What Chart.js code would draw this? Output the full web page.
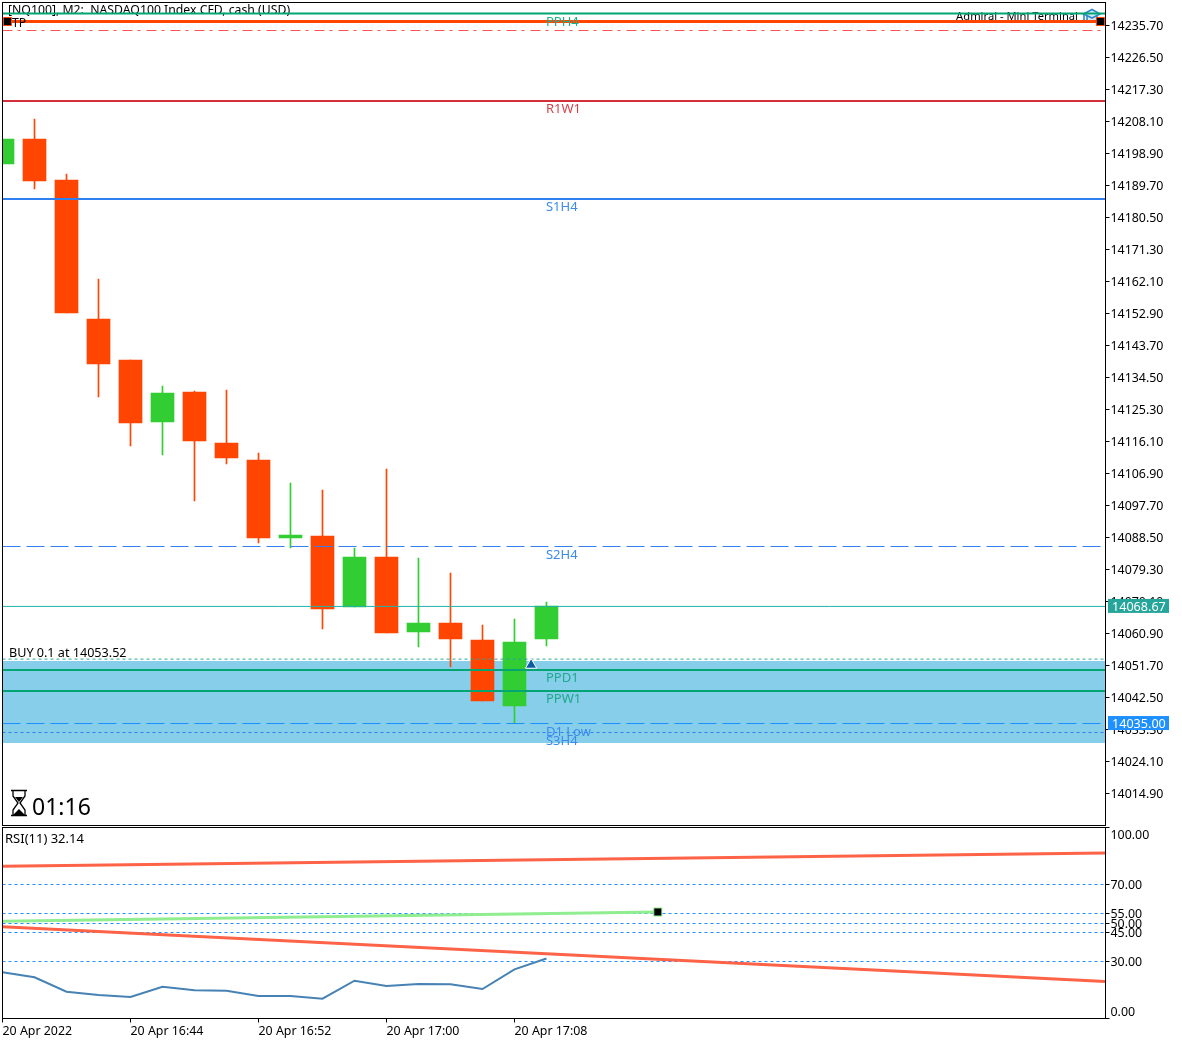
<!DOCTYPE html>
<html>
<head>
<meta charset="utf-8">
<title>NQ100 M2</title>
<script src="https://cdn.jsdelivr.net/npm/chart.js@4"></script>
<style>
    html, body { margin: 0; padding: 0; background: #fff; }
    canvas { position: absolute; left: 0; }
    #priceChart { top: 0; }
    #rsiChart { top: 826px; }
</style>
</head>
<body>
<canvas id="priceChart" width="1182" height="826"></canvas>
<canvas id="rsiChart" width="1182" height="217"></canvas>
<script>
// candles, one per 2 minutes, index 0 is 16:36
const candleIndex = [0, 1, 2, 3, 4, 5, 6, 7, 8, 9, 10, 11, 12, 13, 14, 15, 16, 17];
const opens  = [14195.88, 14203.07, 14191.28, 14151.31, 14139.52, 14121.70, 14130.32, 14115.66, 14110.77, 14088.35, 14088.92, 14068.51, 14082.88, 14061.32, 14063.91, 14059.02, 14040.04, 14059.31];
const highs  = [14203.07, 14208.82, 14193.00, 14162.81, 14139.52, 14132.05, 14130.61, 14130.90, 14112.78, 14104.16, 14102.15, 14085.47, 14108.18, 14082.59, 14078.28, 14063.33, 14065.06, 14069.94];
const lows   = [14195.88, 14188.69, 14153.04, 14128.89, 14114.80, 14112.21, 14098.98, 14109.62, 14086.91, 14085.47, 14062.18, 14068.51, 14061.03, 14057.01, 14051.26, 14041.48, 14035.15, 14057.29];
const closes = [14203.07, 14190.99, 14153.04, 14138.37, 14121.41, 14130.04, 14116.23, 14111.35, 14088.35, 14089.21, 14067.93, 14082.88, 14061.03, 14063.91, 14059.31, 14041.48, 14058.44, 14068.79];

// price levels
const levelNames  = ['PPH4', 'R1W1', 'S1H4', 'S2H4', 'PPD1', 'PPW1', 'D1 Low', 'S3H4'];
const levelPrices = [14239.15, 14214.00, 14185.80, 14085.90, 14050.40, 14044.35, 14035.00, 14032.42];
const takeProfit = 14236.85;
const tpDashed = 14234.26;
const lastPrice = 14068.67;
const buyPrice = 14053.52;
const zoneTop = 14052.98;
const zoneBottom = 14029.40;

const priceTicks = [14235.70, 14226.50, 14217.30, 14208.10, 14198.90, 14189.70, 14180.50, 14171.30, 14162.10, 14152.90, 14143.70, 14134.50, 14125.30, 14116.10, 14106.90, 14097.70, 14088.50, 14079.30, 14070.10, 14060.90, 14051.70, 14042.50, 14033.30, 14024.10, 14014.90];
const timeTicks = [0, 4, 8, 12, 16];
const timeLabels = ['20 Apr 2022', '20 Apr 16:44', '20 Apr 16:52', '20 Apr 17:00', '20 Apr 17:08'];

// rsi pane
const rsiValues = [24.19, 21.57, 14.03, 12.31, 11.26, 16.65, 14.77, 14.56, 11.78, 11.78, 10.37, 19.79, 17.02, 18.06, 17.91, 15.45, 25.76, 31.40];
const rsiTicks = [0, 30, 45, 50, 55, 70, 100];
const rsiUpperTrend = [79.69, 86.65];
const rsiLowerTrend = [48.06, 19.37];
const rsiGreenTrend = [50.90, 55.76];
const rsiGreenEnd = 20.48;

// both panes run past the last candle up to here
const xEnd = 34.47;

const FONT = '"Noto Sans", sans-serif';
const RED = '#FF4500';
const GREEN = '#32CD32';
const LEVEL_GREEN = '#00A572';
const DODGER = '#1E90FF';
const BLUE = '#2F80F0';

Chart.defaults.font.family = FONT;
Chart.defaults.font.size = 12.4;
Chart.defaults.color = '#000';

// horizontal level line as a two point line dataset
function levelLine(price, color, width, dash, order) {
    return {
        type: 'line',
        data: [{x: 0, y: price}, {x: xEnd, y: price}],
        borderColor: color,
        borderWidth: width,
        borderDash: dash || [],
        pointRadius: 0,
        order: order || 1
    };
}

function text(ctx, str, x, y, color, font, align) {
    ctx.save();
    ctx.fillStyle = color;
    ctx.font = font || '12.25px ' + FONT;
    ctx.textAlign = align || 'left';
    ctx.textBaseline = 'middle';
    ctx.fillText(str, x, y);
    ctx.restore();
}

function paneBorder(chart) {
    const ctx = chart.ctx, a = chart.chartArea;
    ctx.save();
    ctx.strokeStyle = '#000';
    ctx.lineWidth = 1;
    ctx.strokeRect(a.left, a.top, a.right - a.left, a.bottom - a.top);
    ctx.restore();
}

// tag on the axis with the current price
function priceTag(chart, price, color) {
    const ctx = chart.ctx, y = chart.scales.y.getPixelForValue(price);
    ctx.save();
    ctx.fillStyle = color;
    ctx.fillRect(1108, y - 7.5, 61, 14);
    ctx.restore();
    text(ctx, price.toFixed(2), 1112, y + 0.5, '#fff', '12.6px ' + FONT);
}

function drawHourglass(ctx) {
    ctx.save();
    ctx.strokeStyle = '#000';
    ctx.lineWidth = 1.3;
    ctx.beginPath();
    ctx.moveTo(11, 790.5); ctx.lineTo(27, 790.5);
    ctx.moveTo(11, 815.5); ctx.lineTo(27, 815.5);
    ctx.moveTo(13, 791); ctx.lineTo(13, 796); ctx.lineTo(18, 803); ctx.lineTo(13, 810); ctx.lineTo(13, 815);
    ctx.moveTo(25, 791); ctx.lineTo(25, 796); ctx.lineTo(20, 803); ctx.lineTo(25, 810); ctx.lineTo(25, 815);
    ctx.stroke();
    ctx.fillStyle = '#000';
    ctx.beginPath();
    ctx.moveTo(15, 797); ctx.lineTo(23, 797); ctx.lineTo(19, 802); ctx.closePath();
    ctx.moveTo(13, 815); ctx.lineTo(19, 809); ctx.lineTo(25, 815); ctx.closePath();
    ctx.fill();
    ctx.restore();
}

function drawCap(ctx) {
    ctx.save();
    ctx.strokeStyle = '#2F86C8';
    ctx.fillStyle = '#D6EAF6';
    ctx.lineWidth = 1.6;
    ctx.beginPath();
    ctx.moveTo(1087, 16); ctx.lineTo(1087, 22); ctx.lineTo(1097, 22); ctx.lineTo(1097, 16);
    ctx.fill();
    ctx.stroke();
    ctx.beginPath();
    ctx.moveTo(1083.5, 14); ctx.lineTo(1092, 9.5); ctx.lineTo(1100, 14); ctx.lineTo(1092, 18); ctx.closePath();
    ctx.fill();
    ctx.stroke();
    ctx.beginPath();
    ctx.moveTo(1084, 14); ctx.lineTo(1084, 23);
    ctx.stroke();
    ctx.restore();
}

// the axis asks for room to hang its end labels, the panes here fill the canvas
function noScalePadding(scale) {
    scale.paddingTop = 0;
    scale.paddingBottom = 0;
    scale.paddingLeft = 0;
    scale.paddingRight = 0;
}

const priceDecor = {
    id: 'priceDecor',
    beforeDatasetsDraw(chart) {
        const ctx = chart.ctx;
        text(ctx, '[NQ100], M2:  NASDAQ100 Index CFD, cash (USD)', 8, 11, '#000');
        text(ctx, 'Admiral - Mini Terminal', 1078, 17, '#000', '11.2px ' + FONT, 'right');
        drawCap(ctx);
    },
    afterDatasetsDraw(chart) {
        const ctx = chart.ctx, sx = chart.scales.x, sy = chart.scales.y;
        const colors = {PPH4: '#1FAE8A', R1W1: '#D8434A', S1H4: '#3B8BEB', S2H4: '#3B8BEB', PPD1: '#1FA889', PPW1: '#1FA889', 'D1 Low': '#3B8BEB', S3H4: '#3B8BEB'};
        levelNames.forEach(function(name, i) {
            const y = sy.getPixelForValue(levelPrices[i]) + 8.5;
            text(ctx, name, sx.getPixelForValue(17) - 0.5, y, colors[name], '13px ' + FONT);
        });
        text(ctx, 'TP', 12, 23.5, '#000');
        text(ctx, 'BUY 0.1 at ' + buyPrice.toFixed(2), 9, 653, '#000', '12.6px ' + FONT);
        drawHourglass(ctx);
        text(ctx, '01:16', 32, 808, '#000', '23px ' + FONT);
        paneBorder(chart);
    },
    afterDraw(chart) {
        priceTag(chart, lastPrice, '#26A69A');
        priceTag(chart, levelPrices[6], DODGER);
    }
};

const rsiDecor = {
    id: 'rsiDecor',
    afterDatasetsDraw(chart) {
        text(chart.ctx, 'RSI(11) 32.14', 5, 13, '#000', '13px ' + FONT);
        paneBorder(chart);
    }
};

// wicks and bodies are two overlapping floating bar datasets
const candleColors = candleIndex.map(function(i) { return closes[i] >= opens[i] ? GREEN : RED; });

new Chart(document.getElementById('priceChart').getContext('2d'), {
    type: 'bar',
    data: {
        datasets: [
            // blue zone, filled between two lines
            {type: 'line', data: [{x: 0, y: zoneTop}, {x: xEnd, y: zoneTop}], borderWidth: 0, pointRadius: 0, backgroundColor: '#87CEEB', fill: '+1', order: 9},
            {type: 'line', data: [{x: 0, y: zoneBottom}, {x: xEnd, y: zoneBottom}], borderWidth: 0, pointRadius: 0, order: 9},
            {
                data: candleIndex.map(function(i) { return {x: i, y: [lows[i], highs[i]]}; }),
                backgroundColor: candleColors,
                barThickness: 1,
                grouped: false,
                order: 4
            },
            {
                data: candleIndex.map(function(i) { return {x: i, y: [opens[i], closes[i]]}; }),
                backgroundColor: candleColors,
                barThickness: 23,
                grouped: false,
                order: 3
            },
            levelLine(levelPrices[0], LEVEL_GREEN, 2),
            levelLine(takeProfit, RED, 3),
            levelLine(tpDashed, '#FF5252', 1, [10, 5, 3, 6]),
            levelLine(levelPrices[1], '#D32F3A', 2),
            levelLine(levelPrices[2], BLUE, 2),
            levelLine(levelPrices[3], BLUE, 1, [18, 6]),
            levelLine(lastPrice, '#20B2AA', 1),
            levelLine(buyPrice, '#26A69A', 1, [3, 3]),
            levelLine(levelPrices[4], LEVEL_GREEN, 2),
            levelLine(levelPrices[5], LEVEL_GREEN, 2),
            levelLine(levelPrices[6], DODGER, 1, [18, 6]),
            levelLine(levelPrices[7], BLUE, 1, [3, 3]),
            // the drag handles on the tp line
            {
                type: 'scatter',
                data: [{x: 0.156, y: takeProfit}, {x: 34.31, y: takeProfit}],
                pointStyle: 'rect',
                pointRadius: 5.7,
                backgroundColor: '#000',
                borderColor: RED,
                borderWidth: 1,
                order: 0
            },
            // buy arrow
            {
                type: 'scatter',
                data: [{x: 16.52, y: 14051.83}],
                pointStyle: 'triangle',
                pointRadius: 6.5,
                backgroundColor: '#0A5CA8',
                borderColor: '#fff',
                borderWidth: 1,
                order: 0
            }
        ]
    },
    options: {
        responsive: false,
        animation: false,
        devicePixelRatio: 1,
        layout: {autoPadding: false, padding: {left: 2.5, top: 2.5, right: 0, bottom: 0.5}},
        plugins: {legend: {display: false}, tooltip: {enabled: false}},
        scales: {
            x: {type: 'linear', min: 0, max: xEnd, offset: false, display: false},
            y: {
                position: 'right',
                min: 14005.68,
                max: 14242.31,
                afterFit: function(scale) { scale.width = 76.5; noScalePadding(scale); },
                afterBuildTicks: function(scale) { scale.ticks = priceTicks.map(function(v) { return {value: v}; }); },
                grid: {drawOnChartArea: false, tickLength: 4, tickColor: '#000'},
                border: {display: false},
                ticks: {
                    autoSkip: false,
                    padding: 1,
                    labelOffset: 1,
                    callback: function(v) { return v.toFixed(2); }
                }
            }
        }
    },
    plugins: [priceDecor]
});

new Chart(document.getElementById('rsiChart').getContext('2d'), {
    type: 'line',
    data: {
        datasets: [
            {data: candleIndex.map(function(i) { return {x: i, y: rsiValues[i]}; }), borderColor: '#4682B4', borderWidth: 2, pointRadius: 0},
            {data: [{x: 0, y: rsiUpperTrend[0]}, {x: xEnd, y: rsiUpperTrend[1]}], borderColor: '#FF6347', borderWidth: 3, pointRadius: 0},
            {data: [{x: 0, y: rsiLowerTrend[0]}, {x: xEnd, y: rsiLowerTrend[1]}], borderColor: '#FF6347', borderWidth: 3, pointRadius: 0},
            {
                data: [{x: 0, y: rsiGreenTrend[0]}, {x: rsiGreenEnd, y: rsiGreenTrend[1]}],
                borderColor: '#90EE90',
                borderWidth: 3,
                pointRadius: [0, 5.7],
                pointStyle: 'rect',
                pointBackgroundColor: '#000',
                pointBorderColor: '#90EE90',
                pointBorderWidth: 1
            }
        ]
    },
    options: {
        responsive: false,
        animation: false,
        devicePixelRatio: 1,
        layout: {autoPadding: false, padding: {left: 2.5, top: 1.5, right: 0, bottom: 0}},
        plugins: {legend: {display: false}, tooltip: {enabled: false}},
        scales: {
            x: {
                type: 'linear',
                min: 0,
                max: xEnd,
                afterFit: function(scale) { scale.height = 24.5; noScalePadding(scale); },
                afterBuildTicks: function(scale) { scale.ticks = timeTicks.map(function(v) { return {value: v}; }); },
                grid: {drawOnChartArea: false, tickLength: 4, tickColor: '#000'},
                border: {display: false},
                ticks: {
                    autoSkip: false,
                    maxRotation: 0,
                    align: 'start',
                    padding: 2,
                    callback: function(v) { return timeLabels[timeTicks.indexOf(v)]; }
                }
            },
            y: {
                position: 'right',
                min: 0,
                max: 100,
                afterFit: function(scale) { scale.width = 76.5; noScalePadding(scale); },
                afterBuildTicks: function(scale) { scale.ticks = rsiTicks.map(function(v) { return {value: v}; }); },
                grid: {
                    tickLength: 4,
                    tickColor: '#000',
                    tickBorderDash: [],
                    // 0 and 100 are only axis ticks, the rest are the dashed levels
                    color: function(c) { return (c.tick.value === 0 || c.tick.value === 100) ? 'rgba(0,0,0,0)' : DODGER; }
                },
                border: {display: false, dash: [3, 3]},
                ticks: {
                    autoSkip: false,
                    padding: 1,
                    labelOffset: 1,
                    font: {lineHeight: 1.1},
                    // the end labels sit inside the pane, an empty line pushes them over
                    callback: function(v) {
                        if (v === 100) return ['', '100.00'];
                        if (v === 0) return ['0.00', ''];
                        return v.toFixed(2);
                    }
                }
            }
        }
    },
    plugins: [rsiDecor]
});
</script>
</body>
</html>
